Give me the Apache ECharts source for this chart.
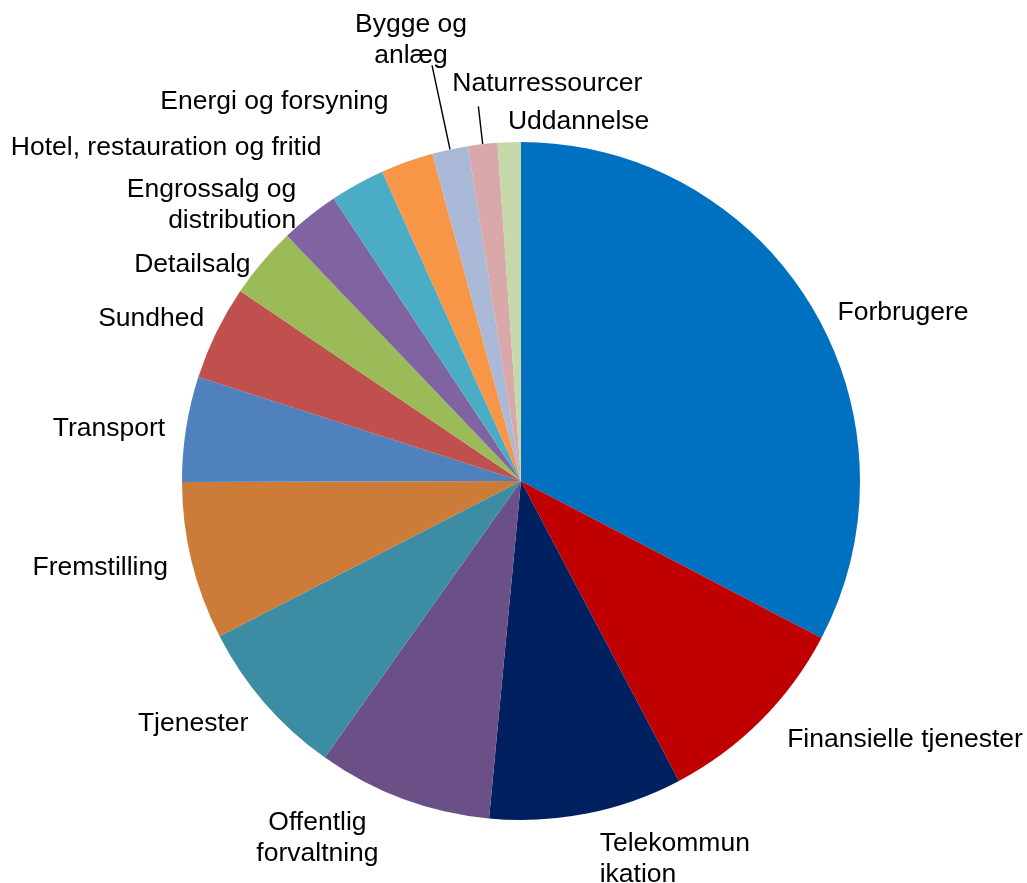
<!DOCTYPE html>
<html>
<head>
<meta charset="utf-8">
<script src="https://cdn.jsdelivr.net/npm/echarts@6/dist/echarts.min.js"></script>
<style>
  html, body { margin: 0; padding: 0; background: #fff; }
  #chart { width: 1027px; height: 883px; }
</style>
</head>
<body>
<div id="chart"></div>
<script>
// sektorer, med uret fra kl. 12
const categories = [
  'Forbrugere', 'Finansielle tjenester', 'Telekommunikation', 'Offentlig forvaltning',
  'Tjenester', 'Fremstilling', 'Transport', 'Sundhed', 'Detailsalg',
  'Engrossalg og distribution', 'Hotel, restauration og fritid', 'Energi og forsyning',
  'Bygge og anlæg', 'Naturressourcer', 'Uddannelse'
]
// label text as wrapped in the original
const labelTexts = [
  'Forbrugere', 'Finansielle tjenester', 'Telekommun\nikation', 'Offentlig\nforvaltning',
  'Tjenester', 'Fremstilling', 'Transport', 'Sundhed', 'Detailsalg',
  'Engrossalg og\ndistribution', 'Hotel, restauration og fritid', 'Energi og forsyning',
  'Bygge og\nanlæg', 'Naturressourcer', 'Uddannelse'
]
const shares = [32.6, 9.6, 9.2, 8.3, 7.6, 7.5, 5.0, 4.5, 3.4, 2.8, 2.6, 2.5, 1.7, 1.4, 1.1]

const colors = [
  '#0070C0', '#C00000', '#002060', '#6A5086', '#3C8CA3', '#CC7B38', '#4F81BD', '#C0504D',
  '#9BBB59', '#8064A2', '#4BACC6', '#F79646', '#AAB9D8', '#D8A9A8', '#C6D7A9'
]

// small nudges of the labels away from the default outside position
const labelTweaks = [
  { dx: 13, dy: 12 },
  { dx: 14, dy: 12 },
  { dx: 6, dy: 36 },
  { dx: -77, dy: 30, align: 'center' },
  { dx: -4, dy: 14 },
  { dx: -9, dy: 4 },
  { dx: -6, dy: 1 },
  { dx: 2, dy: -9 },
  { dx: 1, dy: 9 },
  { dx: -2, dy: -3 },
  { dx: -26, dy: -28 },
  { dx: -10, dy: -51 },
  { dx: -16, dy: -25, align: 'center' },
  { dx: -21, dy: -23, align: 'left' },
  { dx: 4, dy: -11, align: 'left' }
]
// the two slices that get a leader line
const leaderLines = { 12: 86, 13: 38 }

const chart = echarts.init(document.getElementById('chart'))
chart.setOption({
  animation: false,
  color: colors,
  series: [{
    type: 'pie',
    center: [521, 481],
    radius: 339,
    startAngle: 90,
    clockwise: true,
    avoidLabelOverlap: false,
    itemStyle: { borderWidth: 0 },
    emphasis: { disabled: true },
    label: {
      show: true,
      position: 'outside',
      fontFamily: 'Arial, "Liberation Sans", sans-serif',
      fontSize: 26.5,
      lineHeight: 31,
      color: '#000',
      distanceToLabelLine: 5
    },
    labelLine: { show: false, length: 10, length2: 0, lineStyle: { color: '#000', width: 1.4 } },
    labelLayout: (params) => {
      const t = labelTweaks[params.dataIndex]
      const out = { dx: t.dx, dy: t.dy }
      if (t.align) out.align = t.align
      return out
    },
    data: categories.map((name, i) => {
      const item = {
        name: name,
        value: shares[i],
        label: { formatter: labelTexts[i] }
      }
      if (leaderLines[i]) item.labelLine = { show: true, length: leaderLines[i], length2: 0 }
      return item
    })
  }]
})
</script>
</body>
</html>
